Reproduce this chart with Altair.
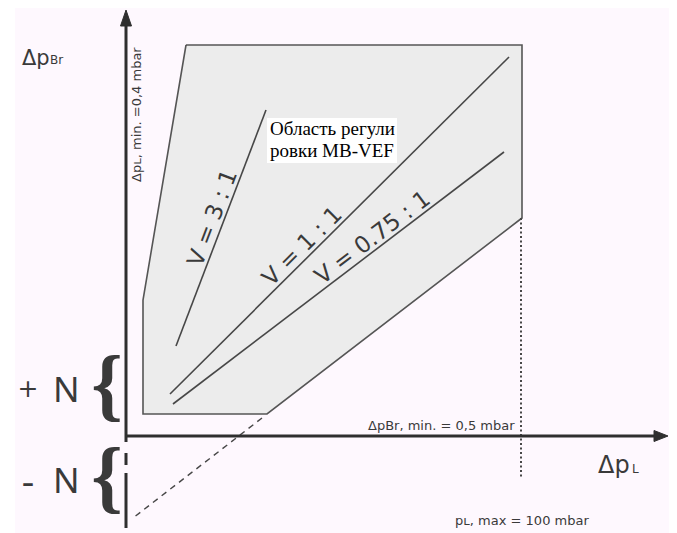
import altair as alt
import numpy as np
import pandas as pd

# ---- data (diagram units: origin at the axes crossing, 1 unit = 1 px) ----
# regulation region polygon
region_x = [60, 396, 396, 141, 17, 17, 60]
region_y = [391, 391, 218, 22, 22, 136, 391]

# ratio lines V = Δp_Br : Δp_L
ratio_names = ["V = 3 : 1", "V = 1 : 1", "V = 0.75 : 1"]
ratio_x0 = [50, 44, 47]
ratio_y0 = [90, 42, 32]
ratio_x1 = [140, 383, 378]
ratio_y1 = [326, 379, 284]
ratio_label_pos = [0.525, 0.414, 0.624]

# limit lines
ext_x = [136, 7]          # dashed extension of the lower edge
ext_y = [18, -82]
pmax_x = [395, 395]       # dotted p_L max line
pmax_y = [218, -42]

# axes segments (x, y, x2, y2)
axis_x = [0, 0, 0, 0]
axis_y = [-6, 0, -17, -37]
axis_x2 = [0, 532, 0, 0]
axis_y2 = [412, 0, -29, -92]

# arrow heads
arrow_name = ["y", "y", "y", "y", "x", "x", "x", "x"]
arrow_x = [0, 5.5, -5.5, 0, 542, 528, 528, 542]
arrow_y = [426, 410, 410, 426, 0, 5.5, -5.5, 0]

# region caption
caption_lines = ["Область регули", "ровки MB-VEF"]
caption_x = [144, 144]
caption_y = [301, 279]
caption_box = dict(x=141, x2=271, y=318, y2=273)

W, H = 654, 525
XDOM = [-111, 543]
YDOM = [-97, 428]


def X(f="x"):
    return alt.X(f"{f}:Q", scale=alt.Scale(domain=XDOM, nice=False, zero=False), axis=None)


def Y(f="y"):
    return alt.Y(f"{f}:Q", scale=alt.Scale(domain=YDOM, nice=False, zero=False), axis=None)


LINE = "#474747"
AXIS = "#2f2f2f"
TXT = "#3a3a3a"
SANS = "DejaVu Sans"

# region polygon
region = pd.DataFrame({"x": region_x, "y": region_y, "o": range(len(region_x))})
poly = alt.Chart(region).mark_line(
    fill="#ECECEC", stroke="#555555", strokeWidth=1.6, strokeJoin="miter"
).encode(x=X(), y=Y(), order="o:Q")

# ratio lines
rows = []
for n, a, b, c, d in zip(ratio_names, ratio_x0, ratio_y0, ratio_x1, ratio_y1):
    rows.append({"name": n, "x": a, "y": b, "o": 0})
    rows.append({"name": n, "x": c, "y": d, "o": 1})
ratio_df = pd.DataFrame(rows)
ratio = alt.Chart(ratio_df).mark_line(color=LINE, strokeWidth=1.6).encode(
    x=X(), y=Y(), detail="name:N", order="o:Q"
)

# ratio labels along the lines
lab = []
for n, a, b, c, d, f in zip(ratio_names, ratio_x0, ratio_y0, ratio_x1, ratio_y1, ratio_label_pos):
    dx, dy = c - a, d - b
    L = np.hypot(dx, dy)
    ux, uy = dx / L, dy / L
    lab.append({
        "text": n,
        "x": a + f * dx - 4 * uy,
        "y": b + f * dy + 4 * ux,
        "angle": float((-np.degrees(np.arctan2(dy, dx))) % 360),
    })
lab_df = pd.DataFrame(lab)
ratio_text = alt.Chart(lab_df).mark_text(
    align="center", baseline="alphabetic", font=SANS, fontSize=23, color=TXT
).encode(x=X(), y=Y(), text="text:N", angle=alt.Angle("angle:Q", scale=None))

# dashed / dotted limit lines
ext = alt.Chart(pd.DataFrame({"x": ext_x, "y": ext_y, "o": [0, 1]})).mark_line(
    color=LINE, strokeWidth=1.4, strokeDash=[6, 5]
).encode(x=X(), y=Y(), order="o:Q")
pmax = alt.Chart(pd.DataFrame({"x": pmax_x, "y": pmax_y, "o": [0, 1]})).mark_line(
    color=LINE, strokeWidth=2, strokeDash=[2, 2.5]
).encode(x=X(), y=Y(), order="o:Q")

# axes
axes_df = pd.DataFrame({"x": axis_x, "y": axis_y, "x2": axis_x2, "y2": axis_y2})
axes = alt.Chart(axes_df).mark_rule(color=AXIS, strokeWidth=3, strokeCap="butt").encode(
    x=X(), y=Y(), x2=alt.X2("x2:Q"), y2=alt.Y2("y2:Q")
)
arrows_df = pd.DataFrame({"name": arrow_name, "x": arrow_x, "y": arrow_y, "o": range(len(arrow_x))})
arrows = alt.Chart(arrows_df).mark_line(fill=AXIS, stroke=AXIS, strokeWidth=1).encode(
    x=X(), y=Y(), detail="name:N", order="o:Q"
)

# caption box + text
box = alt.Chart(pd.DataFrame([caption_box])).mark_rect(fill="white").encode(
    x=X(), x2=alt.X2("x2:Q"), y=Y(), y2=alt.Y2("y2:Q")
)
cap = alt.Chart(pd.DataFrame({"text": caption_lines, "x": caption_x, "y": caption_y})).mark_text(
    align="left", baseline="alphabetic", font="Liberation Serif", fontSize=19, color="black"
).encode(x=X(), y=Y(), text="text:N")


def texts(txt, xs, ys, **kw):
    df = pd.DataFrame({"text": txt, "x": xs, "y": ys})
    return alt.Chart(df).mark_text(color=TXT, **kw).encode(x=X(), y=Y(), text="text:N")


big_top = texts(["Δp"], [-104], [371],
                align="left", baseline="alphabetic", font=SANS, fontSize=21)
big_bot = texts(["Δp"], [472], [-37],
                align="left", baseline="alphabetic", font=SANS, fontSize=24)
subs = texts(["Br", "L"], [-76, 506], [372.5, -37],
             align="left", baseline="alphabetic", font=SANS, fontSize=12)
small = texts(["ΔpBr, min. = 0,5 mbar", "pʟ, max = 100 mbar"], [242, 329], [6, -89],
              align="left", baseline="alphabetic", font=SANS, fontSize=13)
vert = texts(["Δpʟ, min. =0,4 mbar"], [11], [254],
             align="left", baseline="middle", font=SANS, fontSize=13, angle=270)
plus = texts(["+"], [-98], [39],
             align="center", baseline="alphabetic", font=SANS, fontSize=25)
minus = texts(["-"], [-98], [-58],
              align="center", baseline="alphabetic", font=SANS, fontSize=36)
ns = texts(["N", "N"], [-73, -73], [34, -57],
           align="left", baseline="alphabetic", font="Noto Sans", fontSize=35)
braces = texts(["{", "{"], [-19, -19], [49, -43],
               align="center", baseline="middle", font="Liberation Sans Narrow",
               fontSize=80, fontWeight="bold")

chart = alt.layer(
    poly, ratio, ratio_text, ext, pmax, axes, arrows, box, cap,
    big_top, big_bot, subs, small, vert, plus, minus, ns, braces
).properties(
    width=W, height=H,
    padding={"left": 7, "top": 0, "right": 0, "bottom": 0},
    autosize=alt.AutoSizeParams(type="none"),
    background="white",
).configure_view(stroke=None, fill="#FEF8FE")

chart.save("out.html", embed_options={"renderer": "svg", "actions": False})
